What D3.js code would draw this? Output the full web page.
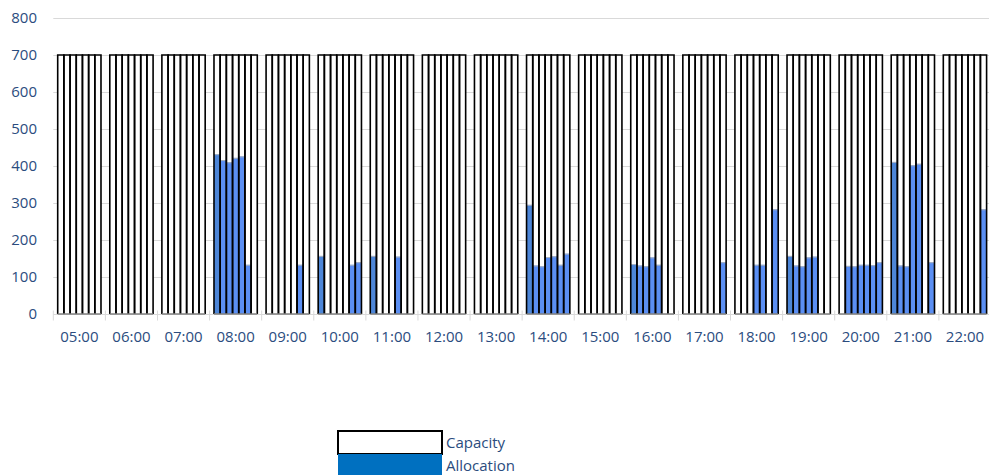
<!DOCTYPE html>
<html>
<head>
<meta charset="utf-8">
<script src="https://cdn.jsdelivr.net/npm/d3@7"></script>
<style>
  html, body { margin: 0; padding: 0; background: #fff; }
  svg { display: block; }
  text { font-family: "Open Sans", "Liberation Sans", sans-serif; }
</style>
</head>
<body>
<svg id="chart" width="989" height="475"></svg>
<script>
// ---- data ----
const hours = ["05:00","06:00","07:00","08:00","09:00","10:00","11:00","12:00","13:00",
               "14:00","15:00","16:00","17:00","18:00","19:00","20:00","21:00","22:00"];
const days = ["Mon","Tue","Wed","Thu","Fri","Sat","Sun"];
const capacity = [
  [700,700,700,700,700,700,700], [700,700,700,700,700,700,700], [700,700,700,700,700,700,700],
  [700,700,700,700,700,700,700], [700,700,700,700,700,700,700], [700,700,700,700,700,700,700],
  [700,700,700,700,700,700,700], [700,700,700,700,700,700,700], [700,700,700,700,700,700,700],
  [700,700,700,700,700,700,700], [700,700,700,700,700,700,700], [700,700,700,700,700,700,700],
  [700,700,700,700,700,700,700], [700,700,700,700,700,700,700], [700,700,700,700,700,700,700],
  [700,700,700,700,700,700,700], [700,700,700,700,700,700,700], [700,700,700,700,700,700,700]
];
const allocation = [
  [0,0,0,0,0,0,0],           // 05:00
  [0,0,0,0,0,0,0],           // 06:00
  [0,0,0,0,0,0,0],           // 07:00
  [432,416,410,422,426,133,0], // 08:00
  [0,0,0,0,0,133,0],         // 09:00
  [157,0,0,0,0,133,140],     // 10:00
  [157,0,0,0,155,0,0],       // 11:00
  [0,0,0,0,0,0,0],           // 12:00
  [0,0,0,0,0,0,0],           // 13:00
  [295,131,129,154,156,133,163], // 14:00
  [0,0,0,0,0,0,0],           // 15:00
  [135,131,129,153,133,0,0], // 16:00
  [0,0,0,0,0,0,140],         // 17:00
  [0,0,0,133,133,0,283],     // 18:00
  [157,131,129,153,155,0,0], // 19:00
  [0,130,129,133,133,132,140], // 20:00
  [411,131,129,402,406,0,140], // 21:00
  [0,0,0,0,0,0,283]          // 22:00
];
const yTicks = [0,100,200,300,400,500,600,700,800];
const seriesNames = ["Capacity","Allocation"];

// ---- layout ----
const svg = d3.select("#chart");
const plotLeft = 53.3, plotRight = 991, yBottom = 314, yTop = 18;
const labelColor = "#2b4c7e";

const x0 = d3.scaleBand().domain(hours).range([plotLeft, plotRight]).paddingInner(0.169).paddingOuter(0.0845);
const x1 = d3.scaleBand().domain(days).range([0, x0.bandwidth()]);
const y = d3.scaleLinear().domain([0, 800]).range([yBottom, yTop]);

// gridlines
svg.append("g").selectAll("line").data(yTicks.filter(d => d > 0)).join("line")
  .attr("x1", plotLeft).attr("x2", 989)
  .attr("y1", d => Math.round(y(d)) + 0.5).attr("y2", d => Math.round(y(d)) + 0.5)
  .attr("stroke", "#d9d9d9").attr("stroke-width", 1);

// y axis labels
const yAxis = d3.axisLeft(y).tickValues(yTicks).tickSize(0).tickPadding(0);
const gy = svg.append("g").attr("transform", "translate(37,0)").call(yAxis);
gy.select(".domain").remove();
gy.selectAll("text").attr("font-size", 15).attr("fill", labelColor)
  .attr("font-family", "'Open Sans', sans-serif");

// x axis line + ticks
const gx = svg.append("g").attr("transform", `translate(0,${yBottom + 0.5})`);
gx.append("line").attr("x1", plotLeft).attr("x2", 989).attr("stroke", "#d9d9d9").attr("stroke-width", 1);
const boundaries = hours.map(h => x0(h) - x0.step() * x0.paddingInner() / 2);
gx.selectAll("line.tick").data(boundaries).join("line").attr("class", "tick")
  .attr("x1", d => d).attr("x2", d => d).attr("y1", -4).attr("y2", 6)
  .attr("stroke", "#d9d9d9").attr("stroke-width", 1);
const xAxis = d3.axisBottom(x0).tickSize(0).tickPadding(0);
const gxl = svg.append("g").attr("transform", `translate(0,${yBottom + 17})`).call(xAxis);
gxl.select(".domain").remove();
gxl.selectAll("text").attr("font-size", 15).attr("fill", labelColor)
  .attr("font-family", "'Open Sans', sans-serif");

// flatten
const cells = [];
hours.forEach((h, i) => days.forEach((d, j) => {
  cells.push({hour: h, day: d, j, cap: capacity[i][j], alloc: allocation[i][j]});
}));

const bw = x1.bandwidth();
// capacity fills
svg.append("g").selectAll("rect").data(cells).join("rect")
  .attr("x", d => x0(d.hour) + x1(d.day)).attr("width", bw)
  .attr("y", d => y(d.cap)).attr("height", d => y(0) - y(d.cap))
  .attr("fill", "#ffffff");

// allocation bars
const ag = svg.append("g");
ag.selectAll("rect").data(cells.filter(d => d.alloc > 0)).join("rect")
  .attr("x", d => x0(d.hour) + x1(d.day)).attr("width", bw)
  .attr("y", d => y(d.alloc)).attr("height", d => y(0) - y(d.alloc))
  .attr("fill", d => d.j === 0 ? "#4d86d8" : "#5b8ff3");
ag.selectAll("line").data(cells.filter(d => d.alloc > 0)).join("line")
  .attr("x1", d => x0(d.hour) + x1(d.day)).attr("x2", d => x0(d.hour) + x1(d.day) + bw)
  .attr("y1", d => y(d.alloc) + 0.5).attr("y2", d => y(d.alloc) + 0.5)
  .attr("stroke", "#a9b3c4").attr("stroke-width", 1);

// capacity outlines
svg.append("g").selectAll("path").data(cells).join("path")
  .attr("d", d => {
    const xl = x0(d.hour) + x1(d.day), xr = xl + bw, yt = y(d.cap), yb = y(0);
    return `M${xl},${yb}V${yt}H${xr}V${yb}`;
  })
  .attr("fill", "none").attr("stroke", "#000").attr("stroke-width", 1.6);
// bottom edges
svg.append("g").selectAll("line").data(hours).join("line")
  .attr("x1", d => x0(d)).attr("x2", d => x0(d) + x0.bandwidth())
  .attr("y1", yBottom).attr("y2", yBottom)
  .attr("stroke", "#808080").attr("stroke-width", 1.6);

// legend
const lg = svg.append("g");
const legendFills = ["#ffffff", "#0070c0"];
lg.selectAll("rect").data(seriesNames).join("rect")
  .attr("x", 338).attr("y", (d, i) => 431 + i * 23).attr("width", 104).attr("height", 23)
  .attr("fill", (d, i) => legendFills[i])
  .attr("stroke", (d, i) => i === 0 ? "#000" : "none").attr("stroke-width", 2);
lg.selectAll("text").data(seriesNames).join("text")
  .attr("x", 446).attr("y", (d, i) => 443 + i * 22.5).attr("dy", "0.35em")
  .attr("font-size", 15).attr("fill", labelColor).text(d => d);
</script>
</body>
</html>
